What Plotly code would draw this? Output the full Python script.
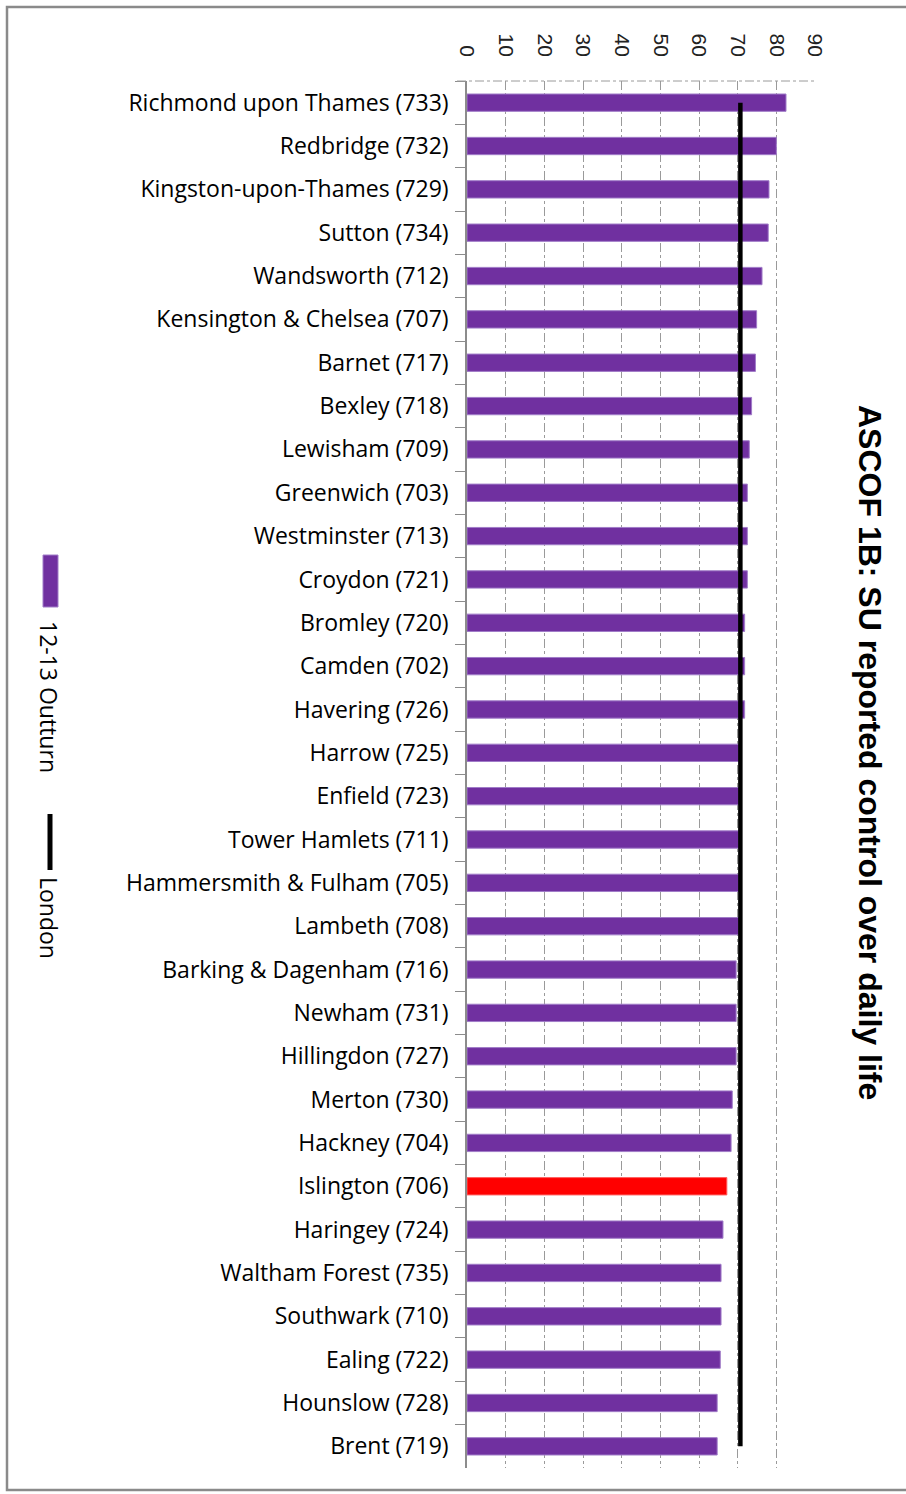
import plotly.graph_objects as go

# ASCOF 1B: proportion of service users reporting control over daily life, 2012-13
boroughs = [
    "Richmond upon Thames (733)", "Redbridge (732)", "Kingston-upon-Thames (729)",
    "Sutton (734)", "Wandsworth (712)", "Kensington & Chelsea (707)", "Barnet (717)",
    "Bexley (718)", "Lewisham (709)", "Greenwich (703)", "Westminster (713)",
    "Croydon (721)", "Bromley (720)", "Camden (702)", "Havering (726)", "Harrow (725)",
    "Enfield (723)", "Tower Hamlets (711)", "Hammersmith & Fulham (705)",
    "Lambeth (708)", "Barking & Dagenham (716)", "Newham (731)", "Hillingdon (727)",
    "Merton (730)", "Hackney (704)", "Islington (706)", "Haringey (724)",
    "Waltham Forest (735)", "Southwark (710)", "Ealing (722)", "Hounslow (728)",
    "Brent (719)",
]
outturn = [
    82.5, 80.0, 78.1, 77.9, 76.3, 74.9, 74.6, 73.6, 73.0, 72.5, 72.5, 72.5,
    71.8, 71.8, 71.8, 70.4, 70.4, 70.4, 70.4, 70.4, 69.6, 69.6, 69.6, 68.6,
    68.3, 67.2, 66.2, 65.7, 65.7, 65.5, 64.7, 64.7,
]
london_avg = 70.7
highlight = "Islington (706)"

PURPLE = "#7030A0"
W, H = 906, 1494
L, R, T, B = 467, 91, 81, 26
PW, PH = W - L - R, H - T - B


def px(x):
    return (x - L) / PW


def py(y):
    return (H - B - y) / PH


colors = ["#FF0000" if b == highlight else PURPLE for b in boroughs]
lines = ["#FF6060" if b == highlight else "#A07CC8" for b in boroughs]

fig = go.Figure()
fig.add_trace(go.Bar(
    x=outturn, y=boroughs, orientation="h", width=0.4,
    marker=dict(color=colors, line=dict(color=lines, width=1)),
    name="12-13 Outturn", showlegend=False,
))
fig.add_trace(go.Scatter(
    x=[london_avg, london_avg], y=[boroughs[0], boroughs[-1]],
    mode="lines", line=dict(color="black", width=4.5),
    name="London", showlegend=False,
))

fig.update_layout(
    width=W, height=H,
    margin=dict(l=L, r=R, t=T, b=B),
    paper_bgcolor="white", plot_bgcolor="white",
    font=dict(family="Open Sans, sans-serif", color="black"),
    xaxis=dict(
        side="top", range=[0, 90], dtick=10, tickangle=90,
        tickfont=dict(family="Liberation Sans, Arial", size=21, color="#222"),
        showgrid=True, gridcolor="#9a9a9a", griddash="dashdot", gridwidth=1,
        zeroline=False, showline=False, ticks="", ticklabelstandoff=20,
    ),
    yaxis=dict(
        range=[len(boroughs) - 0.5, -0.5], showgrid=False, zeroline=False,
        showline=True, linecolor="#8c8c8c", linewidth=1.5,
        ticks="outside", tickson="boundaries", ticklen=10, tickcolor="#8c8c8c",
        tickfont=dict(family="Open Sans", size=23, color="black"), ticklabelstandoff=12,
    ),
)

shapes = [
    # dash-dot line along the top of the plot
    dict(type="line", xref="paper", yref="paper", x0=px(457), x1=1, y0=1, y1=1,
         line=dict(color="#9a9a9a", width=1, dash="dashdot")),
    # outer frame
    dict(type="rect", xref="paper", yref="paper", x0=px(7), x1=px(920),
         y0=py(1490), y1=py(7), line=dict(color="#8a8a8a", width=2.5)),
    # legend keys
    dict(type="rect", xref="paper", yref="paper", x0=px(43), x1=px(58),
         y0=py(607), y1=py(555), fillcolor=PURPLE, line=dict(color="#A07CC8", width=1)),
    dict(type="line", xref="paper", yref="paper", x0=px(50), x1=px(50),
         y0=py(870), y1=py(814), line=dict(color="black", width=5)),
]
fig.update_layout(shapes=shapes)

annotations = [
    dict(text="<b>ASCOF 1B: SU reported control over daily life</b>", textangle=90,
         xref="paper", yref="paper", x=px(870), y=py(752), xanchor="center",
         yanchor="middle", showarrow=False,
         font=dict(family="Liberation Sans, Arial", size=32, color="black")),
    dict(text="12-13 Outturn", textangle=90, xref="paper", yref="paper",
         x=px(49), y=py(697), xanchor="center", yanchor="middle", showarrow=False,
         font=dict(family="Open Sans", size=23, color="black")),
    dict(text="London", textangle=90, xref="paper", yref="paper",
         x=px(49), y=py(918), xanchor="center", yanchor="middle", showarrow=False,
         font=dict(family="Open Sans", size=23, color="black")),
]
fig.update_layout(annotations=annotations)

fig.write_html("out.html", config={"displayModeBar": False},
               post_script="document.body.style.margin = '0';")
